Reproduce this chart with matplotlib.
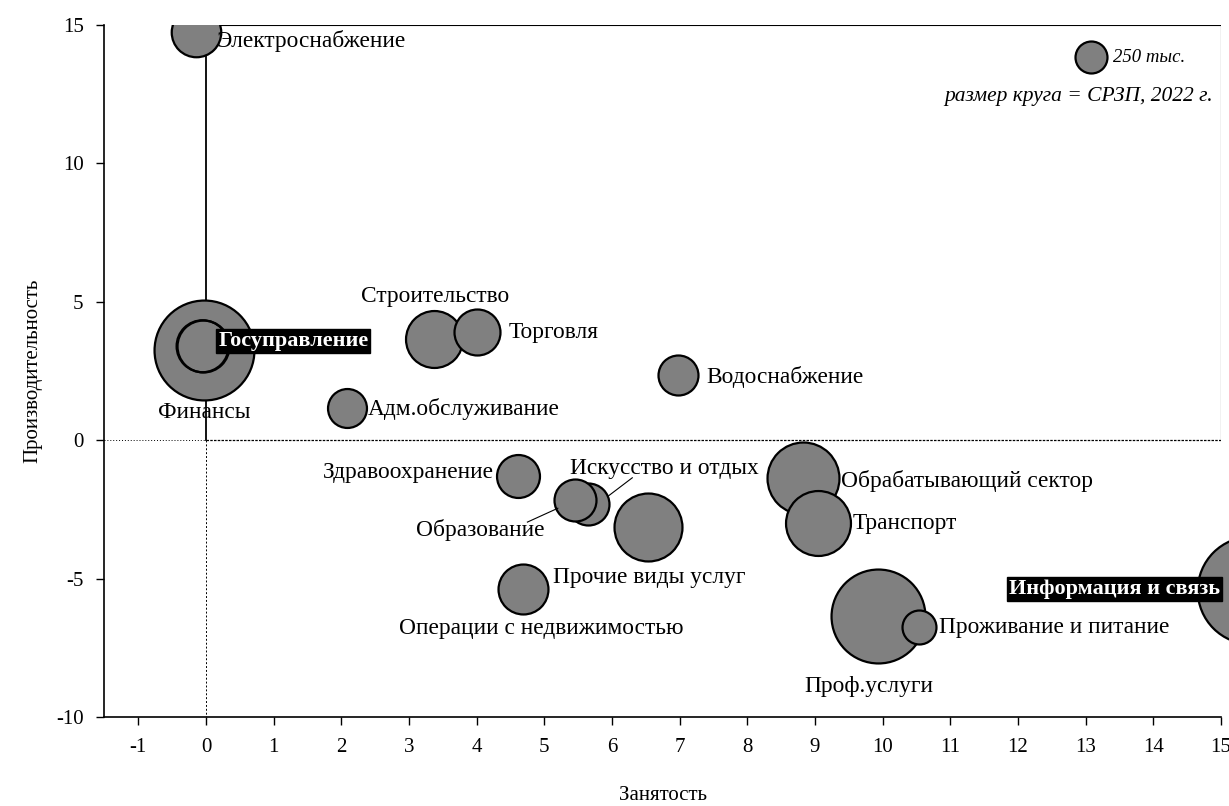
import matplotlib
matplotlib.use("Agg")
import matplotlib.pyplot as plt

# ---------------- data ----------------
sectors = ["Электроснабжение", "Финансы", "Госуправление", "Строительство", "Торговля",
           "Водоснабжение", "Адм.обслуживание", "Здравоохранение", "Искусство и отдых",
           "Образование", "Прочие виды услуг", "Операции с недвижимостью",
           "Обрабатывающий сектор", "Транспорт", "Проф.услуги", "Проживание и питание",
           "Информация и связь"]
employment = [-0.15, -0.03, -0.05, 3.37, 4.0, 6.97, 2.08, 4.61, 5.65, 5.46, 6.53, 4.69,
              8.82, 9.05, 9.93, 10.54, 15.44]
productivity = [14.75, 3.26, 3.4, 3.66, 3.9, 2.36, 1.16, -1.3, -2.28, -2.14, -3.12, -5.35,
                -1.35, -3.0, -6.35, -6.74, -5.4]
wage_fund = [600, 2441, 660, 793, 517, 391, 371, 451, 431, 431, 1129, 610,
             1266, 1031, 2157, 282, 2826]   # тыс., размер круга
legend_value = 250

x_ticks = list(range(-1, 16))
y_ticks = [-10, -5, 0, 5, 10, 15]

# ---------------- style ----------------
FONT = ["Liberation Serif", "DejaVu Serif"]
plt.rcParams["font.family"] = FONT
plt.rcParams["axes.unicode_minus"] = False
FILL = "#808080"
K = 2.12  # points^2 per тыс.

fig = plt.figure(figsize=(12.29, 8.06), dpi=100)
ax = fig.add_axes([0.085, 0.110, 0.9085, 0.859])
ax.set_xlim(-1.5, 15)
ax.set_ylim(-10, 15)

# reference lines / box
ax.plot([0, 0], [0, 15], color="black", lw=1.3, zorder=1)
ax.plot([0, 15, 15], [15, 15, 0], color="black", lw=0.8, zorder=1)
ax.plot([0, 15], [0, 0], color="black", lw=0.9, ls=(0, (2, 1)), zorder=1)
ax.plot([-1.5, 0], [0, 0], color="black", lw=0.7, ls=(0, (1, 2)), zorder=1)
ax.plot([0, 0], [0, -10], color="black", lw=0.7, ls=(0, (2, 2)), zorder=1)

for i in range(len(sectors)):
    ax.scatter(employment[i], productivity[i], s=K * wage_fund[i], color=FILL,
               edgecolor="black", linewidth=1.6, zorder=3 + i * 0.01,
               clip_on=(i != 16))
# Госуправление outline on top of Финансы
ax.scatter(employment[2], productivity[2], s=K * wage_fund[2], facecolor="none",
           edgecolor="black", linewidth=1.6, zorder=3.5)

FS = 16.8
labels = {
    0: (0.16, 14.42, "left", "center"),
    1: (-0.03, 1.0, "center", "center"),
    3: (3.39, 5.2, "center", "center"),
    4: (4.47, 3.9, "left", "center"),
    5: (7.39, 2.3, "left", "center"),
    6: (2.39, 1.15, "left", "center"),
    7: (4.25, -1.15, "right", "center"),
    8: (5.38, -1.0, "left", "center"),
    9: (4.06, -3.22, "center", "center"),
    10: (5.13, -4.95, "left", "center"),
    11: (4.95, -6.8, "center", "center"),
    12: (9.38, -1.45, "left", "center"),
    13: (9.56, -3.0, "left", "center"),
    14: (9.8, -8.9, "center", "center"),
    15: (10.83, -6.75, "left", "center"),
}
for i, (lx, ly, ha, va) in labels.items():
    ax.text(lx, ly, sectors[i], ha=ha, va=va, fontsize=FS, zorder=6)

# highlighted labels
ax.text(0.18, 3.6, sectors[2], ha="left", va="center", fontsize=16, color="white",
        fontweight="bold", zorder=7,
        bbox=dict(facecolor="black", edgecolor="black", pad=1.5))
ax.text(14.98, -5.35, sectors[16], ha="right", va="center", fontsize=16, color="white",
        fontweight="bold", zorder=7,
        bbox=dict(facecolor="black", edgecolor="black", pad=1.5))

# leader lines
ax.plot([6.3, 5.95], [-1.35, -2.0], color="black", lw=0.8, zorder=6)
ax.plot([4.75, 5.2], [-2.95, -2.45], color="black", lw=0.8, zorder=6)

# size legend
ax.scatter(13.08, 13.84, s=K * legend_value, color=FILL, edgecolor="black",
           linewidth=1.6, zorder=5)
ax.text(13.4, 13.84, f"{legend_value} тыс.", ha="left", va="center", fontsize=13.5,
        style="italic", zorder=6)
ax.text(14.88, 12.4, "размер круга = СРЗП, 2022 г.", ha="right", va="center",
        fontsize=15.5, style="italic", zorder=6)

# axes styling
for side in ["top", "right"]:
    ax.spines[side].set_visible(False)
ax.spines["left"].set_linewidth(1.2)
ax.spines["bottom"].set_linewidth(1.2)
ax.set_xticks(x_ticks)
ax.set_yticks(y_ticks)
ax.tick_params(axis="both", direction="out", length=6, width=1, labelsize=15, pad=9)
ax.set_xlabel("Занятость", fontsize=15, labelpad=21)
ax.set_ylabel("Производительность", fontsize=15, labelpad=10)

fig.savefig("out.png", dpi=100)
